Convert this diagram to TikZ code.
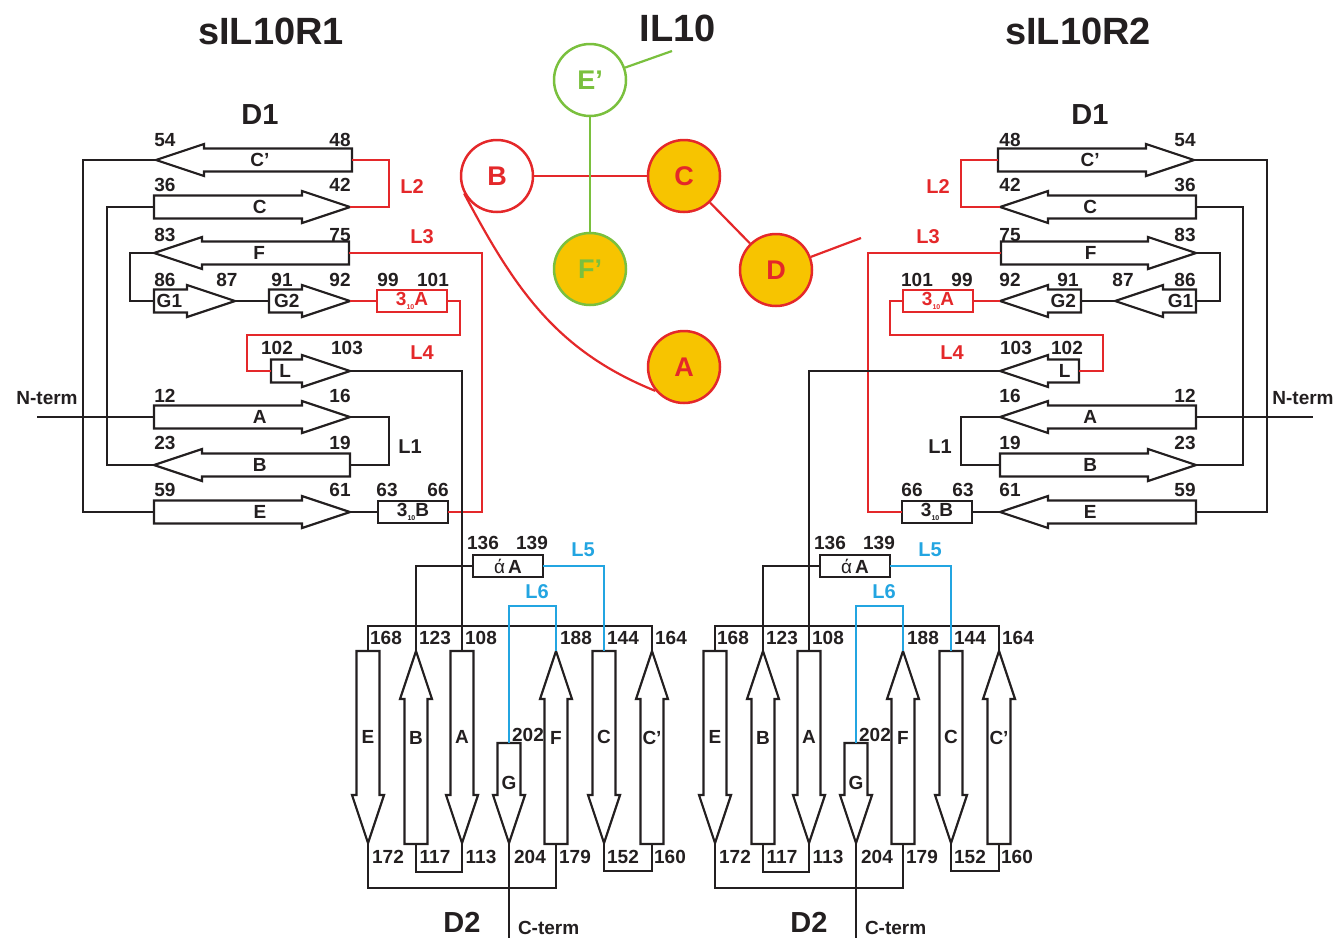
\documentclass[tikz,border=0pt]{standalone}
\usepackage{fontspec}
\setmainfont{Liberation Sans}
\usetikzlibrary{calc}
\definecolor{myred}{RGB}{228,40,42}
\definecolor{mygreen}{RGB}{122,192,62}
\definecolor{myblue}{RGB}{35,165,225}
\definecolor{myorange}{RGB}{247,196,0}
\definecolor{ink}{RGB}{35,31,32}

\newcommand{\strbw}{11.5pt}
\newcommand{\strhw}{16pt}
% #1 name, #2 tail, #3 tip, #4 label, #5 label position (fraction)
\newcommand{\strandarrow}[5]{%
  \coordinate (#1-tail) at (#2);
  \coordinate (#1-tip) at (#3);
  \coordinate (#1-hb) at ($(#1-tip)!48pt!(#1-tail)$);
  \draw[strandline] ($(#1-tail)!\strbw!90:(#1-tip)$) -- ($(#1-hb)!\strbw!90:(#1-tip)$)
    -- ($(#1-hb)!\strhw!90:(#1-tip)$) -- (#1-tip) -- ($(#1-hb)!\strhw!-90:(#1-tip)$)
    -- ($(#1-hb)!\strbw!-90:(#1-tip)$) -- ($(#1-tail)!\strbw!-90:(#1-tip)$) -- cycle;
  \node[slabel] (#1-lab) at ($(#1-tail)!#5!(#1-tip)$) {#4};
}
\newcommand{\tten}{3\raisebox{-0.35ex}{\fontsize{7}{7}\selectfont 10}}
% #1 name, #2 x, #3 y, #4 text, #5 colour
\newcommand{\tenbox}[5]{%
  \node[tbox, draw=#5, text=#5] (#1) at (#2,#3) {#4};
  \coordinate (#1-l) at ({#2-35},#3);
  \coordinate (#1-r) at ({#2+35},#3);
}
% D1 domain: #1 x of 102, #2 x of 103, #3 x of L4
\newcommand{\DOne}[3]{%
  \node[dom] (d1) at (260,115) {D1};
  \strandarrow{Cp}{352,160}{156,160}{C'}{0.47}
  \strandarrow{C}{154,207}{350,207}{C}{0.54}
  \strandarrow{F}{349,253}{154,253}{F}{0.46}
  \strandarrow{Ga}{154,301}{235,301}{G1}{0.19}
  \strandarrow{Gb}{269,301}{350,301}{G2}{0.22}
  \strandarrow{Ls}{271,371}{350,371}{L}{0.18}
  \strandarrow{A}{154,417}{350,417}{A}{0.54}
  \strandarrow{B}{350,465}{154,465}{B}{0.46}
  \strandarrow{E}{154,512}{350,512}{E}{0.54}
  \tenbox{Aten}{412}{301}{\tten A}{myred}
  \tenbox{Bten}{413}{512}{\tten B}{ink}
  % black connectors
  \draw (Cp-tip) -- ++(-73,0) |- (E-tail);
  \draw (C-tail) -- ++(-47,0) |- (B-tip);
  \draw (F-tip) -- ++(-24,0) |- (Ga-tail);
  \draw (Ga-tip) -- (Gb-tail);
  \draw (A-tip) -- ++(39,0) |- (B-tail);
  \draw (E-tip) -- (Bten-l);
  \draw (A-tail) -- ++(-117,0) coordinate (nterm);
  % red loops
  \draw[redline] (Cp-tail) -- ++(37,0) |- (C-tip);
  \draw[redline] (F-tail) -- (482,253) |- (Bten-r);
  \draw[redline] (Gb-tip) -- (Aten-l);
  \draw[redline] (Aten-r) -- (460,301) |- (247,335) |- (Ls-tail);
  % labels
  \node[num] (n54) at (165,140) {54};
  \node[num] (n48) at (340,140) {48};
  \node[num] (n36) at (165,185) {36};
  \node[num] (n42) at (340,185) {42};
  \node[num] (n83) at (165,235) {83};
  \node[num] (n75) at (340,235) {75};
  \node[num] (n86) at (165,280) {86};
  \node[num] (n87) at (227,280) {87};
  \node[num] (n91) at (282,280) {91};
  \node[num] (n92) at (340,280) {92};
  \node[num] (n99) at (388,280) {99};
  \node[num] (n101) at (433,280) {101};
  \node[num] (n102) at (#1,348) {102};
  \node[num] (n103) at (#2,348) {103};
  \node[num] (n12) at (165,396) {12};
  \node[num] (n16) at (340,396) {16};
  \node[num] (n23) at (165,443) {23};
  \node[num] (n19) at (340,443) {19};
  \node[num] (n59) at (165,490) {59};
  \node[num] (n61) at (340,490) {61};
  \node[num] (n63) at (387,490) {63};
  \node[num] (n66) at (438,490) {66};
  \node[loop, text=myred] (lL2) at (412,187) {L2};
  \node[loop, text=myred] (lL3) at (422,237) {L3};
  \node[loop, text=myred] (lL4) at (#3,353) {L4};
  \node[loop] (lL1) at (410,447) {L1};
  \node[num] (ntermlab) at (47,398) {N-term};
}
% D2 domain
\newcommand{\DTwo}{%
  \strandarrow{E}{368,651}{368,843}{E}{0.45}
  \strandarrow{B}{416,844}{416,651}{B}{0.55}
  \strandarrow{A}{462,651}{462,843}{A}{0.45}
  \strandarrow{G}{509,743}{509,843}{G}{0.4}
  \strandarrow{F}{556,844}{556,651}{F}{0.55}
  \strandarrow{C}{604,651}{604,843}{C}{0.45}
  \strandarrow{Cp}{652,844}{652,651}{C'}{0.55}
  \node[tbox] (aA) at (508,566) {{\mdseries ά}\,A};
  \coordinate (aA-l) at (473,566);
  \coordinate (aA-r) at (543,566);
  \draw (aA-l) -| (B-tip);
  \draw (Cp-tip) -- ++(0,-25) -| (E-tail);
  \draw (E-tip) -- ++(0,45) -| (F-tail);
  \draw (A-tip) -- ++(0,29) -| (B-tail);
  \draw (C-tip) -- ++(0,28) -| (Cp-tail);
  \draw (G-tip) -- ++(0,95) coordinate (cterm);
  \draw[blueline] (aA-r) -| (C-tail);
  \draw[blueline] (G-tail) -- ++(0,-137) -| (F-tip);
  \node[num] (n136) at (483,543) {136};
  \node[num] (n139) at (532,543) {139};
  \node[num] (n168) at (386,638) {168};
  \node[num] (n123) at (435,638) {123};
  \node[num] (n108) at (481,638) {108};
  \node[num] (n188) at (576,638) {188};
  \node[num] (n144) at (623,638) {144};
  \node[num] (n164) at (671,638) {164};
  \node[num] (n202) at (528,735) {202};
  \node[num] (n172) at (388,857) {172};
  \node[num] (n117) at (435,857) {117};
  \node[num] (n113) at (481,857) {113};
  \node[num] (n204) at (530,857) {204};
  \node[num] (n179) at (575,857) {179};
  \node[num] (n152) at (623,857) {152};
  \node[num] (n160) at (670,857) {160};
  \node[loop, text=myblue] (lL5) at (583,550) {L5};
  \node[loop, text=myblue] (lL6) at (537,592) {L6};
  \node[dom] (d2) at (462,922) {D2};
  \node[num, anchor=west] (ctermlab) at (517,928) {C-term};
}

\begin{document}
\begin{tikzpicture}[x=1pt,y=-1pt,color=ink,line width=2pt,
  strandline/.style={draw=ink, line width=2.2pt, line join=miter},
  slabel/.style={font=\bfseries\fontsize{19}{19}\selectfont, inner sep=0},
  num/.style={font=\bfseries\fontsize{19}{19}\selectfont, inner sep=0},
  loop/.style={font=\bfseries\fontsize{20}{20}\selectfont, inner sep=0},
  redline/.style={draw=myred, line width=2.2pt},
  blueline/.style={draw=myblue, line width=2.2pt},
  greenline/.style={draw=mygreen, line width=2.2pt},
  tbox/.style={draw, rectangle, minimum width=70pt, minimum height=22pt, inner sep=0,
    font=\bfseries\fontsize{19}{19}\selectfont, line width=2pt},
  circ/.style={circle, minimum size=72pt, inner sep=0, line width=2.5pt,
    font=\bfseries\fontsize{27}{27}\selectfont},
  ttl/.style={font=\bfseries\fontsize{38}{38}\selectfont, inner sep=0},
  dom/.style={font=\bfseries\fontsize{29}{29}\selectfont, inner sep=0}]
\useasboundingbox (0,0) rectangle (1344,938);

\node[ttl] (t1) at (271,31) {sIL10R1};
\node[ttl] (t2) at (1078,31) {sIL10R2};
\node[ttl] (t3) at (678,28) {IL10};

\begin{scope}[name prefix=L-]
  \DOne{277}{347}{422}
\end{scope}
\begin{scope}[xshift=1350pt, xscale=-1, name prefix=R-]
  \DOne{283}{334}{398}
\end{scope}
\begin{scope}[name prefix=DL-]
  \DTwo
\end{scope}
\begin{scope}[xshift=347pt, name prefix=DR-]
  \DTwo
\end{scope}
\draw (L-Ls-tip) -| (DL-A-tail);
\draw (R-Ls-tip) -| (DR-A-tail);

% IL10 interface
\node[circ, draw=mygreen, text=mygreen] (Ep) at (590,80) {E'};
\node[circ, draw=myred, text=myred] (Bc) at (497,176) {B};
\node[circ, fill=myorange, draw=myred, text=myred] (Cc) at (684,176) {C};
\node[circ, fill=myorange, draw=mygreen, text=mygreen] (Fp) at (590,269) {F'};
\node[circ, fill=myorange, draw=myred, text=myred] (Dc) at (776,270) {D};
\node[circ, fill=myorange, draw=myred, text=myred] (Ac) at (684,367) {A};
\coordinate (ILend) at (672,51);
\coordinate (Dend) at (861,238);
\draw[redline] (Bc) -- (Cc);
\draw[redline] (Cc) -- (Dc);
\draw[redline] (Dc) -- (Dend);
\draw[redline] (Bc.208) to[out=-62,in=158] (Ac.220);
\draw[greenline] (Ep) -- (Fp);
\draw[greenline] (Ep) -- (ILend);
\end{tikzpicture}
\end{document}
